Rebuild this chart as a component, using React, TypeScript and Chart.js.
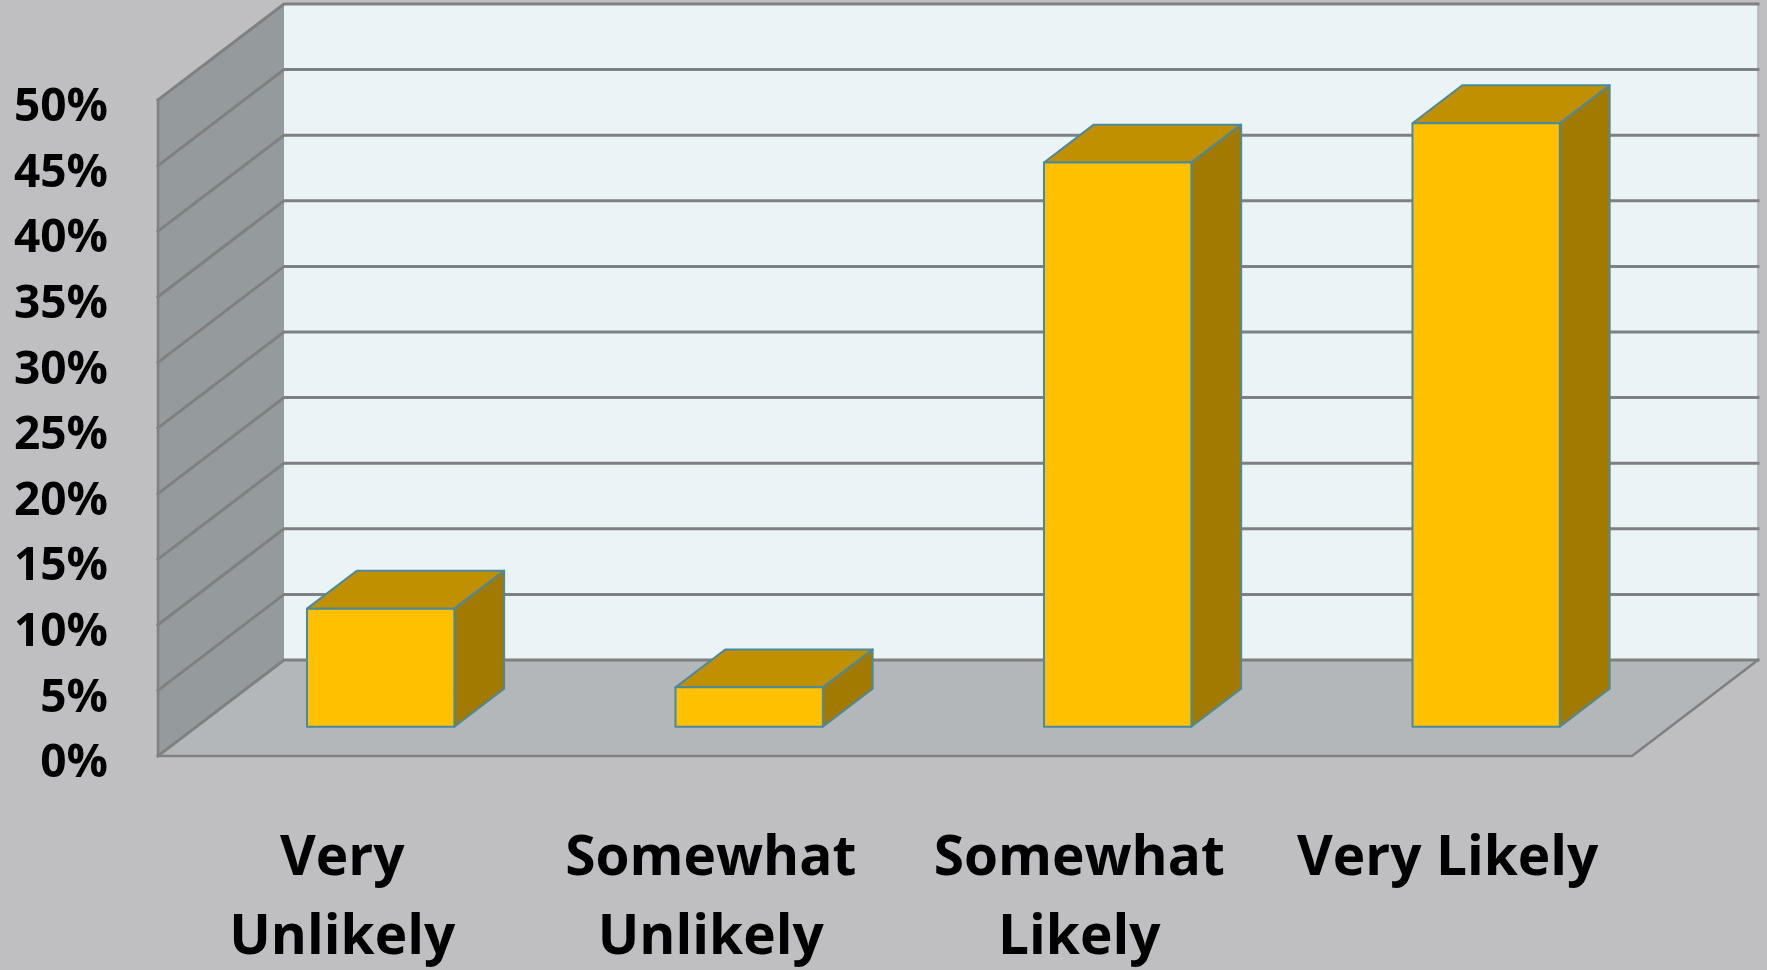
import React, { useEffect, useRef } from "react";
import { Chart, registerables } from "chart.js";

Chart.register(...registerables);

// ---- data ----
const categories: (string | string[])[] = [
  ["Very", "Unlikely"],
  ["Somewhat", "Unlikely"],
  ["Somewhat", "Likely"],
  "Very Likely",
];
const values: number[] = [9, 3, 43, 46];
const yMin = 0;
const yMax = 50;
const yStep = 5;

// ---- styling ----
const BG = "#bfbfc1";
const BACK_WALL = "#eaf3f6";
const LEFT_WALL = "#959a9c";
const FLOOR = "#b3b7ba";
const GRID = "#808080";
const BAR_FRONT = "#ffc000";
const BAR_TOP = "#c09000";
const BAR_SIDE = "#a37a00";
const BAR_EDGE = "#4b8a9c";
const DEPTH_X = 126;
const DEPTH_Y = 96;
const BAR_F0 = 0.305;
const BAR_F1 = 0.7;
const FONT = "'Open Sans', 'Noto Sans', sans-serif";

const threeD = {
  id: "threeD",
  beforeDraw(chart: any) {
    const { ctx, chartArea: a, scales } = chart;
    const y = scales.y;
    ctx.save();
    ctx.fillStyle = BG;
    ctx.fillRect(0, 0, chart.width, chart.height);

    const top = y.getPixelForValue(yMax);
    const bot = y.getPixelForValue(yMin);
    const L = a.left, R = a.right;

    // back wall
    ctx.fillStyle = BACK_WALL;
    ctx.fillRect(L + DEPTH_X, top - DEPTH_Y, R - L, bot - top);
    ctx.strokeStyle = "#aab4b8";
    ctx.lineWidth = 1.5;
    ctx.beginPath();
    ctx.moveTo(R + DEPTH_X, top - DEPTH_Y);
    ctx.lineTo(R + DEPTH_X, bot - DEPTH_Y);
    ctx.stroke();

    // left wall
    ctx.fillStyle = LEFT_WALL;
    ctx.beginPath();
    ctx.moveTo(L, bot);
    ctx.lineTo(L + DEPTH_X, bot - DEPTH_Y);
    ctx.lineTo(L + DEPTH_X, top - DEPTH_Y);
    ctx.lineTo(L, top);
    ctx.closePath();
    ctx.fill();

    // floor
    ctx.fillStyle = FLOOR;
    ctx.beginPath();
    ctx.moveTo(L, bot);
    ctx.lineTo(R, bot);
    ctx.lineTo(R + DEPTH_X, bot - DEPTH_Y);
    ctx.lineTo(L + DEPTH_X, bot - DEPTH_Y);
    ctx.closePath();
    ctx.fill();

    // gridlines
    ctx.strokeStyle = GRID;
    ctx.lineWidth = 3;
    ctx.lineCap = "square";
    for (let v = yMin; v <= yMax; v += yStep) {
      const yf = y.getPixelForValue(v);
      ctx.beginPath();
      ctx.moveTo(L, yf);
      ctx.lineTo(L + DEPTH_X, yf - DEPTH_Y);
      ctx.lineTo(R + DEPTH_X, yf - DEPTH_Y);
      ctx.stroke();
    }
    // edges
    ctx.lineWidth = 2.5;
    ctx.beginPath();
    ctx.moveTo(L, top);
    ctx.lineTo(L, bot);
    ctx.lineTo(R, bot);
    ctx.lineTo(R + DEPTH_X, bot - DEPTH_Y);
    ctx.stroke();
    ctx.restore();
  },
  afterDatasetsDraw(chart: any) {
    const { ctx } = chart;
    const meta = chart.getDatasetMeta(0);
    const dx = (BAR_F1 - BAR_F0) * DEPTH_X;
    const dy = (BAR_F1 - BAR_F0) * DEPTH_Y;
    ctx.save();
    ctx.strokeStyle = BAR_EDGE;
    ctx.lineWidth = 2;
    ctx.lineJoin = "round";
    meta.data.forEach((bar: any) => {
      const p = bar.getProps(["x", "y", "base", "width"], true);
      const x0 = p.x - p.width / 2 + BAR_F0 * DEPTH_X;
      const x1 = p.x + p.width / 2 + BAR_F0 * DEPTH_X;
      const yT = p.y - BAR_F0 * DEPTH_Y;
      const yB = p.base - BAR_F0 * DEPTH_Y;
      // top
      ctx.fillStyle = BAR_TOP;
      ctx.beginPath();
      ctx.moveTo(x0, yT);
      ctx.lineTo(x1, yT);
      ctx.lineTo(x1 + dx, yT - dy);
      ctx.lineTo(x0 + dx, yT - dy);
      ctx.closePath();
      ctx.fill();
      ctx.stroke();
      // side
      ctx.fillStyle = BAR_SIDE;
      ctx.beginPath();
      ctx.moveTo(x1, yT);
      ctx.lineTo(x1 + dx, yT - dy);
      ctx.lineTo(x1 + dx, yB - dy);
      ctx.lineTo(x1, yB);
      ctx.closePath();
      ctx.fill();
      ctx.stroke();
      // front
      ctx.fillStyle = BAR_FRONT;
      ctx.beginPath();
      ctx.rect(x0, yT, x1 - x0, yB - yT);
      ctx.fill();
      ctx.stroke();
    });
    ctx.restore();
  },
};

export default function App() {
  const ref = useRef<HTMLCanvasElement | null>(null);
  useEffect(() => {
    document.body.style.margin = "0";
    document.body.style.background = BG;
    const canvas = ref.current;
    if (!canvas) return;
    const chart = new Chart(canvas, {
      type: "bar",
      data: {
        labels: categories as any,
        datasets: [
          {
            data: values,
            backgroundColor: "rgba(0,0,0,0)",
            borderWidth: 0,
            barPercentage: 0.4,
            categoryPercentage: 1,
          },
        ],
      },
      options: {
        responsive: false,
        animation: false,
        devicePixelRatio: 1,
        layout: { padding: { top: 100, right: 135, left: 0, bottom: 0 } },
        plugins: {
          legend: { display: false },
          tooltip: { enabled: false },
        },
        scales: {
          x: {
            grid: { display: false, drawTicks: false },
            border: { display: false },
            ticks: {
              color: "#000",
              font: { family: FONT, weight: "bold", size: 55, lineHeight: 1.44 },
              padding: 64,
              maxRotation: 0,
              autoSkip: false,
            },
            afterFit: (s: any) => {
              s.height = 214;
            },
          },
          y: {
            min: yMin,
            max: yMax,
            grid: { display: false, drawTicks: false },
            border: { display: false },
            ticks: {
              stepSize: yStep,
              color: "#000",
              font: { family: FONT, weight: "bold", size: 46 },
              padding: 50,
              labelOffset: 8,
              callback: (v: any) => v + "%",
            },
            afterFit: (s: any) => {
              s.width = 158;
            },
          },
        },
      },
      plugins: [threeD],
    });
    return () => chart.destroy();
  }, []);
  return (
    <canvas
      ref={ref}
      width={1767}
      height={970}
      style={{ display: "block", width: 1767, height: 970 }}
    />
  );
}
